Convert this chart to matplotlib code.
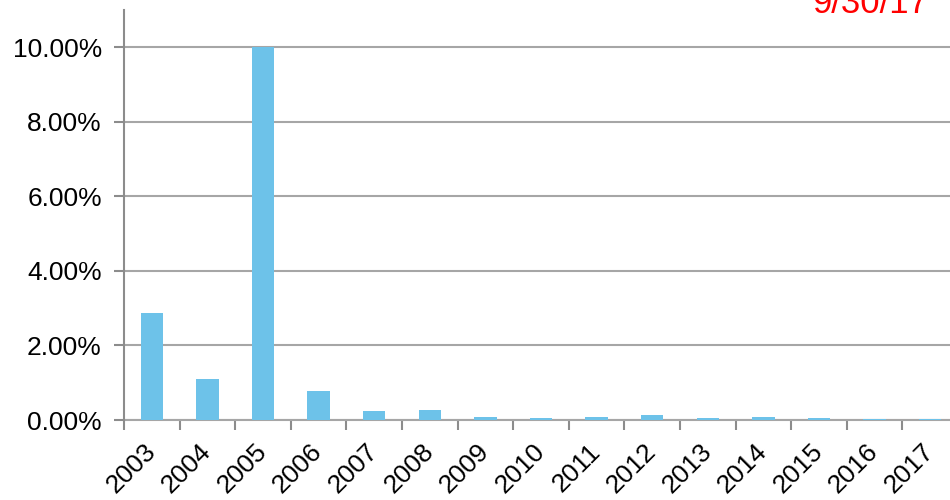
import matplotlib.pyplot as plt
from matplotlib.ticker import FuncFormatter, FixedLocator

years = ['2003', '2004', '2005', '2006', '2007', '2008', '2009', '2010',
         '2011', '2012', '2013', '2014', '2015', '2016', '2017']
values = [2.87, 1.10, 10.00, 0.78, 0.24, 0.27, 0.09, 0.05,
          0.09, 0.14, 0.05, 0.09, 0.05, 0.03, 0.03]
date_label = '9/30/17'

plt.rcParams['font.family'] = ['Liberation Sans', 'DejaVu Sans']

fig = plt.figure(figsize=(9.5, 5), dpi=100)
# axes runs past the right edge of the figure, like the cropped original
ax = fig.add_axes([124 / 950, 80 / 500, 834 / 950, 410 / 500])

x = range(len(years))
ax.bar(x, values, width=0.4, color='#6DC2E9', zorder=3)

ax.set_xlim(-0.5, len(years) - 0.5)
ax.set_ylim(0, 11)
ax.set_yticks([0, 2, 4, 6, 8, 10])
ax.yaxis.set_major_formatter(FuncFormatter(lambda v, p: f'{v:.2f}%'))
ax.yaxis.grid(True, color='#A6A6A6', linewidth=1.5, zorder=0)

# ticks between categories, labels on the categories
ax.xaxis.set_major_locator(FixedLocator([i - 0.5 for i in range(len(years) + 1)]))
ax.xaxis.set_major_formatter(FuncFormatter(lambda v, p: ''))
ax.set_xticks(list(x), minor=True)
ax.set_xticklabels(years, minor=True, rotation=45, ha='right', va='center',
                   rotation_mode='anchor', fontsize=19)
ax.tick_params(axis='x', which='minor', length=0, pad=20)
ax.tick_params(axis='x', which='major', length=7, width=1.5, color='#8C8C8C')
ax.tick_params(axis='y', length=7, width=1.5, color='#8C8C8C', labelsize=19, pad=9)

for s in ['top', 'right']:
    ax.spines[s].set_visible(False)
ax.spines['left'].set_color('#8C8C8C')
ax.spines['left'].set_linewidth(1.5)
ax.spines['bottom'].set_color('#A6A6A6')
ax.spines['bottom'].set_linewidth(1.5)
ax.spines['bottom'].set_zorder(2)

fig.text(870 / 950, 1 - 13 / 500, date_label, color='red', fontsize=25,
         ha='center', va='baseline')

fig.savefig('out.png', dpi=100)
